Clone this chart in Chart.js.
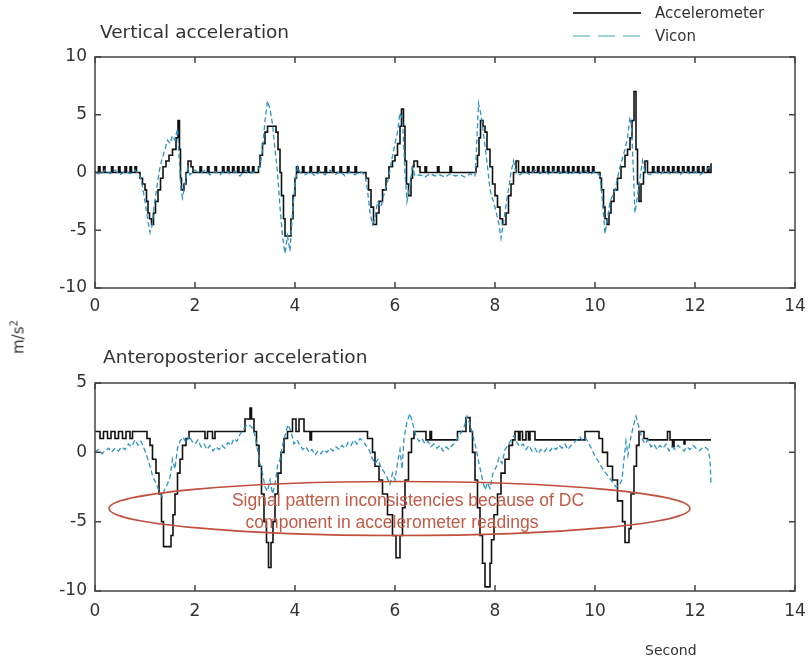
<!DOCTYPE html>
<html>
<head>
<meta charset="utf-8">
<script src="https://cdn.jsdelivr.net/npm/chart.js@4.4.1/dist/chart.umd.min.js"></script>
<style>
  body { margin: 0; background: #fff; font-family: "DejaVu Sans", sans-serif; }
  #wrap { position: relative; width: 809px; height: 663px; overflow: hidden; }
  canvas { position: absolute; left: 0; }
  .txt { position: absolute; color: #333; white-space: nowrap; line-height: 1.2; }
  .note { position: absolute; color: #c25a46; font-family: "Liberation Sans", Arial, sans-serif; font-size: 17.5px;
          white-space: nowrap; line-height: 20px; transform: translateX(-50%); }
</style>
</head>
<body>
<div id="wrap">
  <canvas id="chart_top" width="809" height="330" style="top:0"></canvas>
  <canvas id="chart_bottom" width="809" height="333" style="top:330px"></canvas>

  <div class="txt" style="left:100px;top:21px;font-size:18.5px">Vertical acceleration</div>
  <div class="txt" style="left:103px;top:346px;font-size:18.5px">Anteroposterior acceleration</div>
  <div class="txt" style="left:18px;top:337px;font-size:15px;transform:translate(-50%,-50%) rotate(-90deg)">m/s<sup style="font-size:10px">2</sup></div>
  <div class="txt" style="left:645px;top:642px;font-size:14px">Second</div>

  <svg style="position:absolute;left:570px;top:4px" width="80" height="42">
    <line x1="3" y1="9" x2="71" y2="9" stroke="#333" stroke-width="2"/>
    <line x1="3" y1="32" x2="71" y2="32" stroke="#9fd3dc" stroke-width="2" stroke-dasharray="17,8"/>
  </svg>
  <div class="txt" style="left:655px;top:4px;font-size:15px">Accelerometer</div>
  <div class="txt" style="left:655px;top:27px;font-size:15px">Vicon</div>

  <div class="note" style="left:408px;top:490px">Signal pattern inconsistencies because of DC</div>
  <div class="note" style="left:392px;top:512px">component in accelerometer readings</div>
</div>
<script>
// x ticks (seconds)
const xTicks = [0, 2, 4, 6, 8, 10, 12, 14];
const topYTicks = [-10, -5, 0, 5, 10];
const bottomYTicks = [-10, -5, 0, 5];

// Vertical acceleration - accelerometer (stepped, value holds from t)
const vertAccT = [0, 0.07, 0.1, 0.17, 0.2, 0.33, 0.36, 0.47, 0.5, 0.6, 0.63, 0.7, 0.73, 0.8, 0.83,
  0.9, 0.95, 1.0, 1.03, 1.06, 1.09, 1.13, 1.17, 1.21, 1.26, 1.31, 1.36, 1.42, 1.48, 1.55, 1.62, 1.66, 1.69, 1.71, 1.73, 1.78, 1.82, 1.86, 1.92, 1.96,
  2.1, 2.13, 2.25, 2.28, 2.4, 2.43, 2.55, 2.58, 2.65, 2.68, 2.75, 2.78, 2.85, 2.88, 2.95, 2.98, 3.05, 3.08, 3.15, 3.18,
  3.27, 3.3, 3.35, 3.4, 3.45, 3.62, 3.66, 3.7, 3.73, 3.77, 3.8, 3.92, 3.96, 4.0, 4.03, 4.06,
  4.15, 4.18, 4.3, 4.33, 4.45, 4.48, 4.6, 4.63, 4.75, 4.78, 4.9, 4.93, 5.05, 5.08, 5.2, 5.23,
  5.42, 5.47, 5.52, 5.57, 5.63, 5.68, 5.75, 5.82, 5.88, 5.95, 6.0, 6.05, 6.1, 6.13, 6.17, 6.2, 6.23, 6.27, 6.32, 6.35, 6.38, 6.45, 6.5,
  6.6, 6.63, 6.85, 6.88, 7.1, 7.13,
  7.62, 7.65, 7.68, 7.71, 7.76, 7.8, 7.84, 7.9, 7.95, 8.0, 8.05, 8.1, 8.15, 8.22, 8.27, 8.32, 8.37, 8.42, 8.47,
  8.55, 8.58, 8.65, 8.68, 8.75, 8.78, 8.85, 8.88, 8.95, 8.98, 9.05, 9.08, 9.15, 9.18, 9.25, 9.28, 9.35, 9.38, 9.45, 9.48, 9.55, 9.58, 9.65, 9.68, 9.75, 9.78, 9.85, 9.88, 9.95, 9.98,
  10.1, 10.13, 10.17, 10.2, 10.24, 10.28, 10.32, 10.38, 10.45, 10.52, 10.6, 10.65, 10.7, 10.74, 10.78, 10.82, 10.85, 10.88, 10.92, 10.97, 11.0, 11.05,
  11.15, 11.18, 11.25, 11.28, 11.35, 11.38, 11.45, 11.48, 11.55, 11.58, 11.65, 11.68, 11.75, 11.78, 11.85, 11.88, 11.95, 11.98, 12.05, 12.08, 12.15, 12.18, 12.25, 12.28, 12.32];
const vertAccV = [0, 0.5, 0, 0.5, 0, 0.5, 0, 0.5, 0, 0.5, 0, 0.5, 0, 0.5, 0,
  -0.5, -1, -1.5, -2.5, -3.5, -4, -4.5, -3.5, -2.5, -1.5, -0.5, 0.5, 1, 1.5, 2, 3, 4.5, 2, -0.5, -1.5, -1, 0, 1, 0.5, 0,
  0.5, 0, 0.5, 0, 0.5, 0, 0.5, 0, 0.5, 0, 0.5, 0, 0.5, 0, 0.5, 0, 0.5, 0, 0.5, 0,
  0.5, 1.5, 2.5, 3.5, 4, 3.5, 2, 0, -2, -4, -5.5, -4, -2, -0.5, 0.5, 0,
  0.5, 0, 0.5, 0, 0.5, 0, 0.5, 0, 0.5, 0, 0.5, 0, 0.5, 0, 0.5, 0,
  -0.5, -1.5, -3, -4.5, -3.5, -2.5, -1.5, -0.5, 0.5, 1, 1.5, 2.5, 4, 5.5, 4, 1, -1, -2, -0.5, 0.5, 1, 0.5, 0,
  0.5, 0, 0.5, 0, 0.5, 0,
  0.5, 1.5, 3, 4.5, 4, 3.5, 2, 0.5, -1, -2, -3, -4, -4.5, -3.5, -2, -1, 0, 1, 0,
  0.5, 0, 0.5, 0, 0.5, 0, 0.5, 0, 0.5, 0, 0.5, 0, 0.5, 0, 0.5, 0, 0.5, 0, 0.5, 0, 0.5, 0, 0.5, 0, 0.5, 0, 0.5, 0, 0.5, 0,
  -0.5, -1.5, -3, -4, -4.5, -3.5, -2.5, -1.5, -0.5, 0.5, 1.5, 2, 3, 4.5, 7, 2, -1, -2.5, -1, 0, 1, 0,
  0.5, 0, 0.5, 0, 0.5, 0, 0.5, 0, 0.5, 0, 0.5, 0, 0.5, 0, 0.5, 0, 0.5, 0, 0.5, 0, 0.5, 0, 0.5, 0, 0.8];

// Vertical acceleration - Vicon
const vertVicT = [0, 0.1, 0.2, 0.3, 0.4, 0.5, 0.6, 0.7, 0.8, 0.9, 0.95, 1.0, 1.05, 1.1, 1.14, 1.18, 1.23, 1.28, 1.33, 1.4, 1.45, 1.5, 1.55, 1.6, 1.65, 1.68, 1.72, 1.75, 1.8, 1.85, 1.9,
  2.0, 2.1, 2.2, 2.3, 2.4, 2.5, 2.6, 2.7, 2.8, 2.9, 3.0, 3.1, 3.2, 3.3, 3.35, 3.4, 3.45, 3.5, 3.55, 3.6, 3.65, 3.7, 3.75, 3.8, 3.85, 3.9, 3.95, 4.0, 4.05, 4.1,
  4.2, 4.3, 4.4, 4.5, 4.6, 4.7, 4.8, 4.9, 5.0, 5.1, 5.2, 5.3, 5.4, 5.45, 5.5, 5.55, 5.6, 5.65, 5.72, 5.8, 5.87, 5.93, 6.0, 6.05, 6.1, 6.15, 6.2, 6.24, 6.3, 6.35, 6.4,
  6.5, 6.6, 6.7, 6.8, 6.9, 7.0, 7.1, 7.2, 7.3, 7.4, 7.5, 7.6, 7.63, 7.67, 7.72, 7.78, 7.85, 7.9, 8.0, 8.08, 8.12, 8.18, 8.25, 8.32, 8.37, 8.42,
  8.5, 8.6, 8.7, 8.8, 8.9, 9.0, 9.1, 9.2, 9.3, 9.4, 9.5, 9.6, 9.7, 9.8, 9.9, 10.0, 10.1, 10.15, 10.2, 10.25, 10.3, 10.4, 10.5, 10.6, 10.65, 10.7, 10.73, 10.76, 10.8, 10.85, 10.9, 10.95, 11.0,
  11.1, 11.2, 11.3, 11.4, 11.5, 11.6, 11.7, 11.8, 11.9, 12.0, 12.1, 12.2, 12.3];
const vertVicV = [0.1, -0.2, 0.2, -0.1, 0.2, -0.2, 0.1, -0.1, 0.2, -0.3, -1.2, -2.5, -4, -5.2, -4.6, -3, -1.5, 0, 1, 2, 2.8, 2.5, 3.2, 2.8, 3.8, 1.5, -1.5, -2.2, -1, 0.4, -0.2,
  0.2, -0.1, 0.2, -0.2, 0.1, -0.2, 0.2, -0.1, 0.1, -0.3, 0.2, -0.1, 0.1, 0.5, 2, 4.5, 6.2, 5.5, 4.2, 2, 0, -3, -5.5, -7, -5.5, -6.8, -3.5, -1, 0.5, 0,
  -0.2, 0.1, -0.3, 0.1, -0.2, 0.2, -0.2, 0.1, -0.3, 0.1, -0.2, 0.1, -0.2, -1.5, -3.5, -4.5, -4, -2.5, -3, -1.5, -0.5, 1, 2.5, 3.5, 5.2, 4.5, 0, -2.5, -1, 0.5, -0.3,
  -0.2, -0.4, -0.1, -0.3, -0.2, -0.4, -0.1, -0.3, -0.2, -0.4, -0.1, -0.3, 2, 6, 5, 3, 0.5, -1.5, -3, -4.5, -5.7, -4, -2, 0, 1, 0,
  -0.2, 0.1, -0.2, 0.2, -0.1, 0.1, -0.2, 0.2, -0.1, 0.1, -0.2, 0.1, -0.1, 0.2, -0.2, 0.1, -0.3, -2.5, -5.3, -4, -2.5, -1.5, 0.5, 2, 3, 4.8, 4, 1, -3.5, -2, -0.5, 1, 0,
  -0.2, 0.1, -0.2, 0.2, -0.1, 0.1, -0.2, 0.2, -0.1, 0.1, -0.2, 0.1, 0.5];

// Anteroposterior acceleration - accelerometer (stepped)
const apAccT = [0, 0.1, 0.17, 0.25, 0.32, 0.4, 0.47, 0.55, 0.62, 0.7, 0.75,
  1.04, 1.1, 1.15, 1.22, 1.28, 1.33, 1.37, 1.52, 1.56, 1.6, 1.65, 1.7, 1.75, 1.82, 1.88,
  2.2, 2.25, 2.35, 2.4, 3.0, 3.1, 3.13, 3.18, 3.23, 3.28, 3.33, 3.38, 3.43, 3.47, 3.52, 3.56, 3.6, 3.66, 3.72, 3.78, 3.85, 3.95, 4.02, 4.08, 4.18, 4.3, 4.33,
  5.45, 5.55, 5.6, 5.68, 5.75, 5.85, 5.95, 6.02, 6.1, 6.15, 6.2, 6.27, 6.33, 6.38, 6.62, 6.7, 6.73,
  7.25, 7.42, 7.5, 7.55, 7.6, 7.65, 7.7, 7.75, 7.8, 7.9, 7.93, 7.98, 8.05, 8.12, 8.2, 8.28, 8.35, 8.4, 8.47, 8.5, 8.55, 8.62, 8.67, 8.7, 8.8,
  9.8, 10.08, 10.15, 10.25, 10.35, 10.45, 10.55, 10.6, 10.68, 10.72, 10.78, 10.83, 10.88, 10.98, 11.05,
  11.45, 11.5, 11.55, 11.58, 11.78, 11.8, 12.32];
const apAccV = [1.5, 1.0, 1.5, 1.0, 1.5, 1.0, 1.5, 1.0, 1.5, 1.0, 1.5,
  1.0, 0.5, -0.5, -1.5, -3, -5, -6.8, -6, -4.5, -3, -1.5, -0.5, 0.5, 1, 1.5,
  1.0, 1.5, 1.0, 1.5, 2.4, 3.2, 2.4, 1.5, 0.5, -1, -3, -5, -6.5, -8.3, -6.5, -5, -3, -1.5, 0, 1, 1.5, 2.4, 1.5, 2.4, 1.5, 0.9, 1.5,
  1.0, 0, -1, -2, -3, -4.5, -6, -7.6, -6, -4, -2, 0, 1, 1.5, 0.9, 1.5, 0.9,
  1.5, 2.5, 1.5, 0, -2, -4, -6, -8, -9.7, -8, -6.3, -4.5, -3, -1.5, -0.5, 0.5, 0.9, 1.5, 0.9, 1.5, 0.9, 1.5, 0.9, 1.5, 0.9,
  1.5, 1.0, 0, -1, -2, -3.5, -5, -6.5, -5.5, -3, -1, 0.5, 1.5, 1.0, 0.9,
  1.5, 0.9, 0.4, 0.9, 0.6, 0.9, 0.9];

// Anteroposterior acceleration - Vicon
const apVicT = [0, 0.07, 0.14, 0.2, 0.27, 0.33, 0.4, 0.47, 0.53, 0.6, 0.67, 0.73, 0.8, 0.86, 0.92, 0.98, 1.04, 1.1, 1.16, 1.22, 1.28, 1.34, 1.4, 1.45, 1.5, 1.55, 1.6, 1.65, 1.7, 1.76, 1.82, 1.88, 1.94,
  2.0, 2.06, 2.12, 2.18, 2.24, 2.3, 2.36, 2.42, 2.48, 2.54, 2.6, 2.66, 2.72, 2.78, 2.84, 2.9, 2.96, 3.02, 3.08, 3.14, 3.2, 3.25, 3.3, 3.35, 3.4, 3.45, 3.5, 3.55, 3.6, 3.65, 3.7, 3.75, 3.8, 3.86, 3.92, 3.98,
  4.04, 4.1, 4.16, 4.22, 4.28, 4.34, 4.4, 4.46, 4.52, 4.58, 4.64, 4.7, 4.76, 4.82, 4.88, 4.94, 5.0, 5.06, 5.12, 5.18, 5.24, 5.3, 5.36, 5.42, 5.48, 5.54, 5.6, 5.66, 5.72, 5.78, 5.84, 5.9, 5.95,
  6.0, 6.05, 6.1, 6.14, 6.18, 6.24, 6.3, 6.36, 6.42, 6.48, 6.54, 6.6, 6.66, 6.72, 6.78, 6.84, 6.9, 6.96, 7.02, 7.08, 7.14, 7.2, 7.26, 7.32, 7.38, 7.44, 7.5, 7.56, 7.62, 7.68, 7.74, 7.8, 7.85, 7.9, 7.96,
  8.02, 8.08, 8.14, 8.2, 8.26, 8.32, 8.38, 8.44, 8.5, 8.56, 8.62, 8.68, 8.74, 8.8, 8.86, 8.92, 8.98, 9.04, 9.1, 9.16, 9.22, 9.28, 9.34, 9.4, 9.46, 9.52, 9.58, 9.64, 9.7, 9.76, 9.82, 9.88, 9.94,
  10.0, 10.06, 10.12, 10.18, 10.24, 10.3, 10.36, 10.42, 10.48, 10.54, 10.58, 10.62, 10.66, 10.7, 10.76, 10.82, 10.88, 10.94,
  11.0, 11.06, 11.12, 11.18, 11.24, 11.3, 11.36, 11.42, 11.48, 11.54, 11.6, 11.66, 11.72, 11.78, 11.84, 11.9, 11.96, 12.02, 12.08, 12.14, 12.2, 12.26, 12.3, 12.32];
const apVicV = [0, 0.2, -0.1, 0.1, 0.3, 0, 0.3, 0.1, 0.4, 0.2, 0.6, 0.4, 0.9, 0.5, 0.8, 0.3, -0.3, -1, -1.8, -2.2, -2.8, -3.2, -2.6, -2.3, -1.8, -0.5, -1.2, 0.3, 0.8, 1.1, 0.7, 1.2, 0.8,
  0.6, 0.9, 0.4, 0.6, 0.2, 0.5, 0.1, 0.4, 0.2, 0.5, 0.3, 0.7, 0.5, 1.0, 0.8, 1.3, 1.6, 1.9, 2.0, 1.8, 1.2, 0.2, -0.8, -1.5, -2.5, -2.8, -2.0, -3.0, -2.3, -1.0, -0.5, 0.5, 1.2, 2.0, 1.5, 0.6,
  0.9, 0.5, 0.2, 0.4, 0, 0.2, -0.2, 0.1, -0.1, 0.2, 0, 0.3, 0.1, 0.4, 0.2, 0.5, 0.3, 0.7, 0.5, 0.9, 0.6, 1.0, 0.8, 0.5, 0.2, -0.4, -0.8, -0.5, -1.1, -1.4, -1.8, -2.3, -1.5,
  -2.0, -0.8, 0.2, -1.2, 1.0, 2.2, 2.8, 2.0, 1.2, 0.8, 1.0, 0.6, 0.8, 0.4, 0.6, 0.3, 0.5, 0.1, 0.4, 0.2, 0.5, 0.7, 1.1, 1.4, 1.8, 2.6, 2.0, 1.2, 0.3, -0.8, -1.8, -2.7, -2.2, -2.6, -1.5,
  -1.1, -0.4, -0.8, 0.2, 0.5, 0.9, 1.2, 0.7, 0.4, 0.6, 0.2, 0.5, 0.1, 0.3, -0.1, 0.2, 0, 0.3, 0.1, 0.4, 0.2, 0.5, 0.3, 0.6, 0.2, 0.5, 0.7, 0.9, 1.1, 0.8, 1.0, 0.6, 0.2,
  -0.3, -0.6, -1.0, -1.3, -1.6, -1.9, -2.2, -2.5, -2.4, -2.0, -0.5, 0.8, -0.2, 0.8, 1.8, 2.6, 1.8, 1.0,
  0.6, 0.9, 0.4, 0.6, 0.2, 0.5, 0.3, 0.6, 0.1, 0.4, 0.2, 0.5, 0.3, 0.1, 0.4, 0.2, 0.5, 0.3, 0.1, 0.3, 0.4, 0.2, -0.5, -2.3];

// red ellipse annotation (data units of the lower plot)
const noteBox = { xMin: 0.28, xMax: 11.9, yMin: -6.0, yMax: -2.1 };

const pts = (t, v) => t.map((x, i) => ({ x: x, y: v[i] }));

// box around plot area with inward tick marks (MATLAB look)
const boxTicks = {
  id: 'boxTicks',
  afterDatasetsDraw(chart) {
    const { ctx, chartArea: a, scales } = chart;
    ctx.save();
    ctx.strokeStyle = '#444';
    ctx.lineWidth = 1.5;
    ctx.strokeRect(a.left, a.top, a.right - a.left, a.bottom - a.top);
    ctx.beginPath();
    scales.x.ticks.forEach(t => {
      const px = scales.x.getPixelForValue(t.value);
      ctx.moveTo(px, a.bottom); ctx.lineTo(px, a.bottom - 6);
      ctx.moveTo(px, a.top); ctx.lineTo(px, a.top + 6);
    });
    scales.y.ticks.forEach(t => {
      const py = scales.y.getPixelForValue(t.value);
      ctx.moveTo(a.left, py); ctx.lineTo(a.left + 6, py);
      ctx.moveTo(a.right, py); ctx.lineTo(a.right - 6, py);
    });
    ctx.stroke();
    ctx.restore();
  }
};

const ellipseNote = {
  id: 'ellipseNote',
  afterDatasetsDraw(chart, args, opts) {
    if (!opts.box) return;
    const { ctx, scales } = chart;
    const l = scales.x.getPixelForValue(opts.box.xMin), r = scales.x.getPixelForValue(opts.box.xMax);
    const t = scales.y.getPixelForValue(opts.box.yMax), b = scales.y.getPixelForValue(opts.box.yMin);
    ctx.save();
    ctx.strokeStyle = '#c0503c';
    ctx.lineWidth = 1.6;
    ctx.beginPath();
    ctx.ellipse((l + r) / 2, (t + b) / 2, (r - l) / 2, (b - t) / 2, 0, 0, Math.PI * 2);
    ctx.stroke();
    ctx.restore();
  }
};

function makeChart(id, accT, accV, vicT, vicV, yTicks, padTop, xHeight, xPad, box) {
  const tickFont = { family: 'DejaVu Sans', size: 17 };
  return new Chart(document.getElementById(id).getContext('2d'), {
    type: 'line',
    data: {
      datasets: [
        { label: 'Vicon', data: pts(vicT, vicV), borderColor: '#2c93c4', borderWidth: 1.3,
          borderDash: [5, 3], pointRadius: 0, tension: 0 },
        { label: 'Accelerometer', data: pts(accT, accV), borderColor: '#111', borderWidth: 1.6,
          stepped: true, pointRadius: 0 }
      ]
    },
    options: {
      responsive: false,
      animation: false,
      layout: { padding: { top: padTop, right: 14, left: 0, bottom: 0 } },
      plugins: { legend: { display: false }, tooltip: { enabled: false }, ellipseNote: { box: box } },
      scales: {
        x: {
          type: 'linear', min: 0, max: 14,
          afterBuildTicks: s => { s.ticks = xTicks.map(v => ({ value: v })); },
          afterFit: s => { s.height = xHeight; s.paddingLeft = 0; s.paddingRight = 0; },
          grid: { display: false, drawTicks: false }, border: { display: false },
          ticks: { color: '#333', font: tickFont, padding: xPad, maxRotation: 0 }
        },
        y: {
          min: yTicks[0], max: yTicks[yTicks.length - 1],
          afterBuildTicks: s => { s.ticks = yTicks.map(v => ({ value: v })); },
          afterFit: s => { s.width = 95; s.paddingTop = 0; s.paddingBottom = 0; },
          grid: { display: false, drawTicks: false }, border: { display: false },
          ticks: { color: '#333', font: tickFont, padding: 8 }
        }
      }
    },
    plugins: [boxTicks, ellipseNote]
  });
}

makeChart('chart_top', vertAccT, vertAccV, vertVicT, vertVicV, topYTicks, 57, 42, 8, null);
makeChart('chart_bottom', apAccT, apAccV, apVicT, apVicV, bottomYTicks, 53, 72, 10, noteBox);
</script>
</body>
</html>
